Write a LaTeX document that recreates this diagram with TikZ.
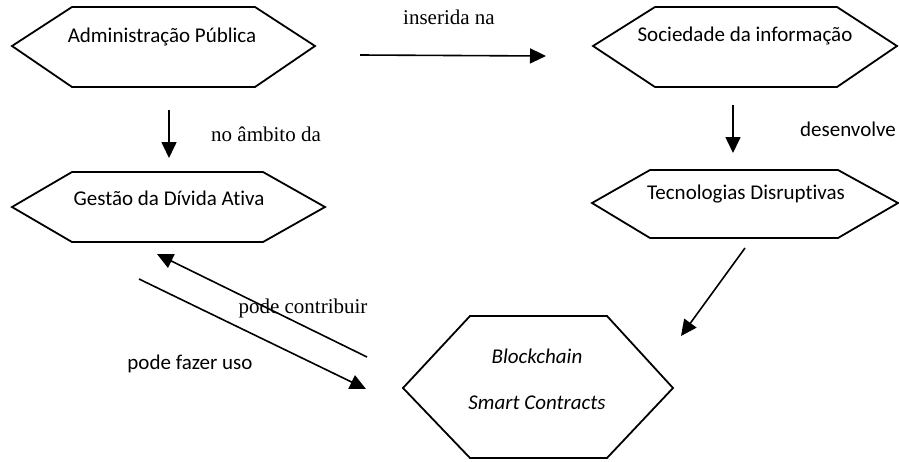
\documentclass[tikz,border=0pt]{standalone}
\usepackage{fontspec}
\setmainfont[Ligatures=NoCommon]{Carlito}
\newfontfamily\timesfont{Liberation Serif}
\usetikzlibrary{arrows.meta}
\begin{document}
\begin{tikzpicture}[x=1pt,y=-1pt,
  hexline/.style={draw=black,line width=1.8pt,line join=miter},
  boxtext/.style={inner sep=0pt,font=\fontsize{21}{25}\selectfont},
  serlabel/.style={inner sep=0pt,font=\timesfont\fontsize{21}{25}\selectfont},
  sanlabel/.style={inner sep=0pt,font=\fontsize{21}{25}\selectfont},
  link/.style={draw=black,line width=1.6pt,-{Triangle[length=16pt,width=15pt]}}]
\useasboundingbox[fill=white] (0,0) rectangle (899,461);

% hexagonal boxes
\draw[hexline] (12,46) -- (72,7) -- (255,7) -- (315,46) -- (255,87) -- (72,87) -- cycle;
\draw[hexline] (593,46) -- (655,7) -- (837,7) -- (897,46) -- (837,87) -- (655,87) -- cycle;
\draw[hexline] (12,207) -- (72,172) -- (263,172) -- (325,207) -- (263,242) -- (72,242) -- cycle;
\draw[hexline] (592,203) -- (650,170) -- (838,170) -- (898,203) -- (838,238) -- (650,238) -- cycle;
\draw[hexline] (403,388) -- (470,316) -- (607,316) -- (673,388) -- (607,458) -- (470,458) -- cycle;

% box captions
\node[boxtext] (adm) at (162,37) {Administração Pública};
\node[boxtext] (soc) at (745,36) {Sociedade da informação};
\node[boxtext] (ges) at (169,198) {Gestão da Dívida Ativa};
\node[boxtext] (tec) at (746,194) {Tecnologias Disruptivas};
\node[boxtext,font=\fontsize{21}{25}\selectfont\itshape] (blk) at (537,356) {Blockchain};
\node[boxtext,font=\fontsize{21}{25}\selectfont\itshape] (smc) at (537,403) {Smart Contracts};

% connector labels
\node[serlabel] (lins) at (449,17) {inserida na};
\node[serlabel] (lamb) at (266,134) {no âmbito da};
\node[sanlabel] (ldes) at (848,129) {desenvolve};
\node[serlabel] (lcon) at (303,308) {pode contribuir};
\node[sanlabel] (luso) at (190,364) {pode fazer uso};

% connector end points
\coordinate (insA) at (360,55);   \coordinate (insB) at (546,56);
\coordinate (ambA) at (169,110);  \coordinate (ambB) at (169,158);
\coordinate (desA) at (733,105);  \coordinate (desB) at (733,153);
\coordinate (tecA) at (745,248);  \coordinate (tecB) at (681,336);
\coordinate (conA) at (367,357);  \coordinate (conB) at (157,254);
\coordinate (usoA) at (139,279);  \coordinate (usoB) at (366,389);

% connectors
\draw[link] (insA) -- (insB);
\draw[link] (ambA) -- (ambB);
\draw[link] (desA) -- (desB);
\draw[link] (tecA) -- (tecB);
\draw[link] (conA) -- (conB);
\draw[link] (usoA) -- (usoB);
\end{tikzpicture}
\end{document}
